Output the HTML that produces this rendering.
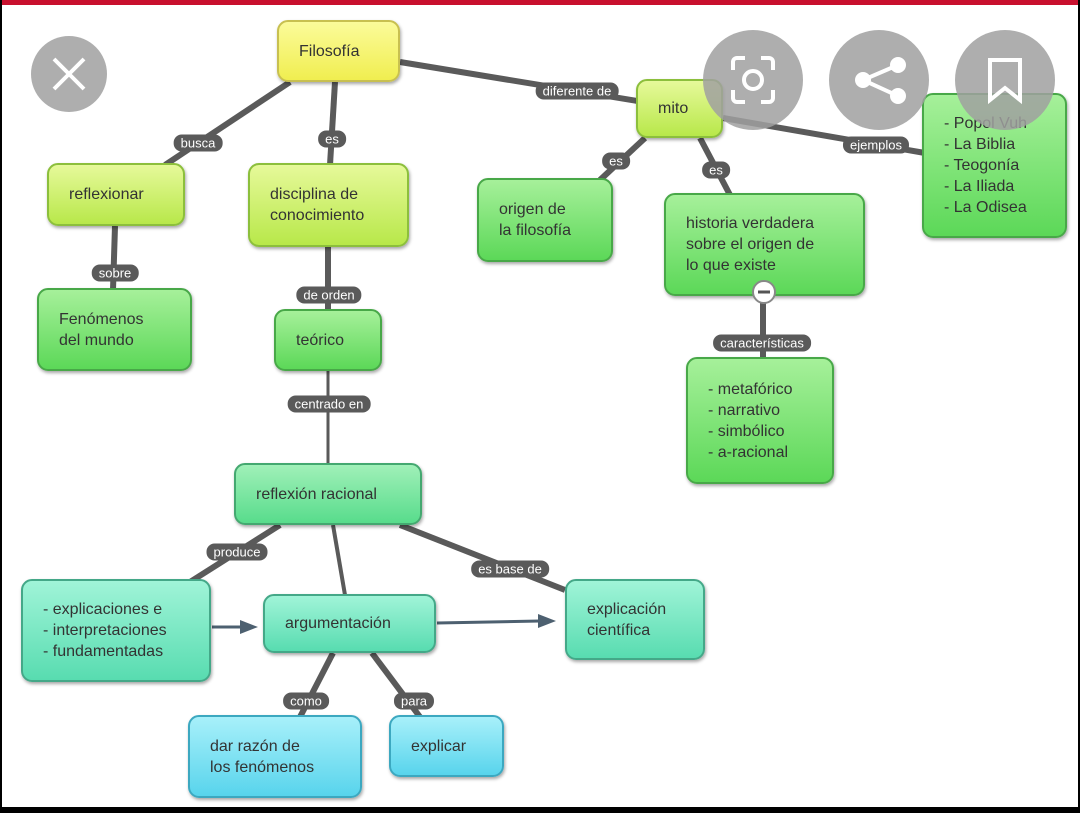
<!DOCTYPE html><html><head><meta charset="utf-8"><style>
body{margin:0;width:1080px;height:813px;overflow:hidden;background:#000;font-family:"Liberation Sans",sans-serif}
#f{position:absolute;left:2px;top:0;width:1076px;height:807px;background:#fff;border-top:5px solid #c8102e;box-sizing:border-box}
.n{position:absolute;box-sizing:border-box;border-radius:11px;font-size:16px;color:#333;padding-left:20px;display:flex;flex-direction:column;justify-content:center;line-height:21px;box-shadow:1px 2px 3px rgba(0,0,0,.35)}
.y{background:linear-gradient(#fbfb9a,#f0ee50);border:2px solid #c8c050}
.g1{background:linear-gradient(#e6f99a,#b8e84a);border:2px solid #8cbf3c}
.g2{background:linear-gradient(#a6f09a,#5cd858);border:2px solid #48a848}
.g3{background:linear-gradient(#a0f0b8,#58dc8c);border:2px solid #44a870}
.t{background:linear-gradient(#a0f4d8,#58dcb0);border:2px solid #44a888}
.c{background:linear-gradient(#a8f0fa,#58d4ec);border:2px solid #3ca8c0}
.l{position:absolute;background:#5a5a5a;color:#fff;font-size:13px;border-radius:8px;padding:0 7px;height:17px;line-height:17px;transform:translate(-50%,-50%);white-space:nowrap}
.ic{position:absolute;border-radius:50%;background:rgba(160,160,160,.85)}
</style></head><body><div id="f"></div>
<svg style="position:absolute;left:0;top:0" width="1080" height="813">
<g stroke="#5a5a5a" stroke-width="6" fill="none">
<line x1="290" y1="82" x2="165" y2="165"/>
<line x1="335" y1="82" x2="330" y2="165"/>
<line x1="400" y1="62" x2="680" y2="108"/>
<line x1="115" y1="226" x2="113" y2="290"/>
<line x1="328" y1="247" x2="328" y2="310"/>
<line x1="328" y1="371" x2="328" y2="465" stroke-width="3"/>
<line x1="645" y1="138" x2="600" y2="180"/>
<line x1="700" y1="138" x2="730" y2="195"/>
<line x1="723" y1="118" x2="925" y2="153"/>
<line x1="763" y1="296" x2="763" y2="358"/>
<line x1="280" y1="525" x2="190" y2="582"/>
<line x1="333" y1="525" x2="345" y2="595" stroke-width="4"/>
<line x1="400" y1="525" x2="565" y2="590"/>
<line x1="333" y1="653" x2="300" y2="717"/>
<line x1="372" y1="653" x2="420" y2="717"/>
</g>
<g stroke="#4d6070" stroke-width="3"><line x1="212" y1="627" x2="245" y2="627"/><line x1="437" y1="623" x2="540" y2="621"/></g>
<polygon points="258,627 240,620 240,634" fill="#4d6070"/><polygon points="556,621 538,614 538,628" fill="#4d6070"/>
</svg>
<div class="n y" style="left:277px;top:20px;width:123px;height:62px">Filosofía</div>
<div class="n g1" style="left:47px;top:163px;width:138px;height:63px">reflexionar</div>
<div class="n g1" style="left:248px;top:163px;width:161px;height:84px">disciplina de<br>conocimiento</div>
<div class="n g2" style="left:37px;top:288px;width:155px;height:83px">Fenómenos<br>del mundo</div>
<div class="n g2" style="left:274px;top:309px;width:108px;height:62px">teórico</div>
<div class="n g3" style="left:234px;top:463px;width:188px;height:62px">reflexión racional</div>
<div class="n t" style="left:21px;top:579px;width:190px;height:103px">- explicaciones e<br>- interpretaciones<br>- fundamentadas</div>
<div class="n t" style="left:263px;top:594px;width:173px;height:59px">argumentación</div>
<div class="n t" style="left:565px;top:579px;width:140px;height:81px">explicación<br>científica</div>
<div class="n c" style="left:188px;top:715px;width:174px;height:83px">dar razón de<br>los fenómenos</div>
<div class="n c" style="left:389px;top:715px;width:115px;height:62px">explicar</div>
<div class="n g1" style="left:636px;top:79px;width:87px;height:59px">mito</div>
<div class="n g2" style="left:477px;top:178px;width:136px;height:84px">origen de<br>la filosofía</div>
<div class="n g2" style="left:664px;top:193px;width:201px;height:103px">historia verdadera<br>sobre el origen de<br>lo que existe</div>
<div class="n g2" style="left:686px;top:357px;width:148px;height:127px">- metafórico<br>- narrativo<br>- simbólico<br>- a-racional</div>
<div class="n g2" style="left:922px;top:93px;width:145px;height:145px">- Popol Vuh<br>- La Biblia<br>- Teogonía<br>- La Iliada<br>- La Odisea</div>
<svg style="position:absolute;left:750px;top:278px" width="28" height="28"><circle cx="14" cy="14" r="11" fill="#fff" stroke="#888" stroke-width="2"/><line x1="8" y1="14" x2="20" y2="14" stroke="#555" stroke-width="3"/></svg>
<div class="l" style="left:198px;top:143px">busca</div>
<div class="l" style="left:332px;top:139px">es</div>
<div class="l" style="left:577px;top:91px">diferente de</div>
<div class="l" style="left:115px;top:273px">sobre</div>
<div class="l" style="left:329px;top:295px">de orden</div>
<div class="l" style="left:329px;top:404px">centrado en</div>
<div class="l" style="left:616px;top:161px">es</div>
<div class="l" style="left:716px;top:170px">es</div>
<div class="l" style="left:876px;top:145px">ejemplos</div>
<div class="l" style="left:762px;top:343px">características</div>
<div class="l" style="left:237px;top:552px">produce</div>
<div class="l" style="left:510px;top:569px">es base de</div>
<div class="l" style="left:306px;top:701px">como</div>
<div class="l" style="left:414px;top:701px">para</div>
<div class="ic" style="left:31px;top:36px;width:76px;height:76px"></div>
<svg style="position:absolute;left:31px;top:36px" width="76" height="76"><g stroke="#fff" stroke-width="4"><line x1="23" y1="23" x2="53" y2="53"/><line x1="53" y1="23" x2="23" y2="53"/></g></svg>
<div class="ic" style="left:703px;top:30px;width:100px;height:100px"></div>
<div class="ic" style="left:829px;top:30px;width:100px;height:100px"></div>
<div class="ic" style="left:955px;top:30px;width:100px;height:100px"></div>
<svg style="position:absolute;left:703px;top:30px" width="352" height="100" fill="none" stroke="#fff" stroke-width="4">
<path d="M30 40v-8a4 4 0 0 1 4-4h8M58 28h8a4 4 0 0 1 4 4v8M70 60v8a4 4 0 0 1-4 4h-8M42 72h-8a4 4 0 0 1-4-4v-8"/><circle cx="50" cy="50" r="9"/>
<circle cx="195" cy="35" r="6" fill="#fff"/><circle cx="160" cy="50" r="6" fill="#fff"/><circle cx="195" cy="66" r="6" fill="#fff"/><path d="M195 35L160 50L195 66"/>
<path d="M287 30h30v40l-15-12l-15 12z"/>
</svg>
</body></html>
